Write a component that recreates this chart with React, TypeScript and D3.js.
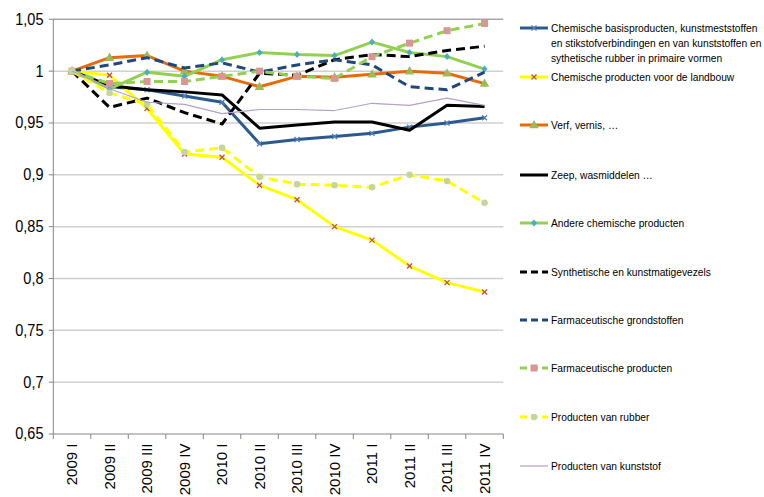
import React from "react";
import * as d3 from "d3";

const categories = ["2009 I","2009 II","2009 III","2009 IV","2010 I","2010 II","2010 III","2010 IV","2011 I","2011 II","2011 III","2011 IV"];
const yTicks = [0.65,0.7,0.75,0.8,0.85,0.9,0.95,1,1.05];

const chemBasis = [1.0,0.985,0.982,0.976,0.970,0.930,0.934,0.937,0.940,0.946,0.950,0.955];
const chemLandbouw = [1.0,0.996,0.964,0.920,0.917,0.890,0.876,0.850,0.837,0.812,0.796,0.787];
const verf = [1.0,1.013,1.015,1.0,0.995,0.985,0.995,0.994,0.997,1.0,0.998,0.988];
const zeep = [1.0,0.986,0.982,0.980,0.977,0.945,0.948,0.951,0.951,0.943,0.967,0.966];
const andereChem = [1.0,0.983,0.999,0.995,1.011,1.018,1.016,1.015,1.028,1.018,1.014,1.002];
const synthVezels = [1.0,0.965,0.974,0.960,0.949,0.998,0.996,1.011,1.016,1.014,1.020,1.024];
const farmaGrond = [1.0,1.006,1.013,1.003,1.008,0.999,1.006,1.011,1.006,0.985,0.982,0.999];
const farmaProd = [1.0,0.988,0.990,0.990,0.995,1.0,0.995,0.993,1.014,1.027,1.039,1.046];
const rubber = [1.0,0.979,0.968,0.922,0.926,0.898,0.891,0.890,0.888,0.900,0.894,0.873];
const kunststof = [1.0,0.983,0.970,0.968,0.959,0.963,0.963,0.962,0.969,0.967,0.974,0.967];

type Marker = "none" | "x" | "triangle" | "diamond" | "square" | "circle";
interface Series { name: string[]; values: number[]; color: string; width: number; dash?: string; marker: Marker; markerColor?: string; }

const series: Series[] = [
  { name: ["Chemische basisproducten, kunstmeststoffen","en stikstofverbindingen en van kunststoffen en","sythetische rubber in primaire vormen"], values: chemBasis, color: "#2C5A8F", width: 3, marker: "x", markerColor: "#4F81BD" },
  { name: ["Chemische producten voor de landbouw"], values: chemLandbouw, color: "#FFFF00", width: 3, marker: "x", markerColor: "#C0504D" },
  { name: ["Verf, vernis, …"], values: verf, color: "#E46C0A", width: 3, marker: "triangle", markerColor: "#9BBB59" },
  { name: ["Zeep, wasmiddelen …"], values: zeep, color: "#000000", width: 3, marker: "none" },
  { name: ["Andere chemische producten"], values: andereChem, color: "#92D050", width: 3, marker: "diamond", markerColor: "#4BACC6" },
  { name: ["Synthetische en kunstmatigevezels"], values: synthVezels, color: "#000000", width: 3, dash: "9,5", marker: "none" },
  { name: ["Farmaceutische grondstoffen"], values: farmaGrond, color: "#1F497D", width: 3, dash: "9,5", marker: "none" },
  { name: ["Farmaceutische producten"], values: farmaProd, color: "#92D050", width: 3, dash: "9,5", marker: "square", markerColor: "#D99694" },
  { name: ["Producten van rubber"], values: rubber, color: "#FFFF00", width: 3, dash: "9,5", marker: "circle", markerColor: "#C3D69B" },
  { name: ["Producten van kunststof"], values: kunststof, color: "#B3A2C7", width: 1.2, marker: "none" },
];

const legendY = [28, 77, 125, 175, 223, 272, 320, 368, 417, 466];

const W = 764, H = 497;
const left = 53.3, right = 503.3, top = 19.3, bottom = 434;
const FONT = "'Liberation Sans', Arial, sans-serif";
const K = 1.15; // vertical stretch of the legend text

function MarkerShape({ type, x, y, color }: { type: Marker; x: number; y: number; color?: string }) {
  const c = color || "#000";
  switch (type) {
    case "x":
      return <g stroke={c} strokeWidth={1.3}><line x1={x-2.5} y1={y-2.5} x2={x+2.5} y2={y+2.5}/><line x1={x-2.5} y1={y+2.5} x2={x+2.5} y2={y-2.5}/></g>;
    case "triangle":
      return <path d={d3.symbol(d3.symbolTriangle, 40)()!} transform={`translate(${x},${y+0.5})`} fill={c} />;
    case "diamond":
      return <path d={`M${x},${y-3.5}L${x+3},${y}L${x},${y+3.5}L${x-3},${y}Z`} fill={c} />;
    case "square":
      return <rect x={x-3.5} y={y-3.5} width={7} height={7} fill={c} />;
    case "circle":
      return <circle cx={x} cy={y} r={3.3} fill={c} />;
    default:
      return null;
  }
}

export default function App() {
  const x = d3.scaleBand<string>().domain(categories).range([left, right]);
  const y = d3.scaleLinear().domain([0.65, 1.05]).range([bottom, top]);
  const cx = (c: string) => (x(c) || 0) + x.bandwidth() / 2;
  const line = d3.line<number>().x((_, i) => cx(categories[i])).y(d => y(d));
  const boundaries = [...categories.map(c => x(c) || 0), right];

  return (
    <svg width={W} height={H} style={{ position: "absolute", left: 0, top: 0, background: "#fff" }} fontFamily={FONT}>
      {yTicks.filter(t => t > 0.65).map(t => (
        <line key={t} x1={left} x2={right} y1={y(t)} y2={y(t)} stroke={t === 1.05 ? "#A6A6A6" : "#D0D0D0"} strokeWidth={1.5} />
      ))}
      {yTicks.map(t => (
        <g key={"yt" + t}>
          <line x1={left - 4.5} x2={left} y1={y(t)} y2={y(t)} stroke="#868686" />
          <text transform={`translate(43.5,${y(t)}) scale(1,1.08)`} dy="0.35em" textAnchor="end" fontSize={14.5} fill="#000">{String(t).replace(".", ",")}</text>
        </g>
      ))}
      <line x1={left} x2={left} y1={top} y2={bottom} stroke="#868686" />
      <line x1={left} x2={right} y1={bottom} y2={bottom} stroke="#868686" />
      {boundaries.map((b, i) => (
        <line key={"xb" + i} x1={b} x2={b} y1={bottom} y2={bottom + 5} stroke="#868686" />
      ))}
      {categories.map(c => (
        <text key={c} transform={`translate(${cx(c)},${bottom + 9.5}) rotate(-90)`} dy="0.36em" textAnchor="end" fontSize={15} fill="#000">{c}</text>
      ))}
      {series.map((s, si) => (
        <g key={"s" + si}>
          <path d={line(s.values)!} fill="none" stroke={s.color} strokeWidth={s.width} strokeDasharray={s.dash} strokeLinejoin="round" />
          {s.marker !== "none" && s.values.map((v, i) => (
            <MarkerShape key={i} type={s.marker} x={cx(categories[i])} y={y(v)} color={s.markerColor} />
          ))}
        </g>
      ))}
      {series.map((s, si) => {
        const ly = legendY[si];
        return (
          <g key={"l" + si}>
            <line x1={520} x2={548} y1={ly} y2={ly} stroke={s.color} strokeWidth={s.width} strokeDasharray={s.dash ? "7,4" : undefined} />
            {s.marker !== "none" && <MarkerShape type={s.marker} x={534} y={ly} color={s.markerColor} />}
            {s.name.map((n, k) => (
              <text key={k} transform={`translate(551,${ly + k * 14.7}) scale(1,${K})`} dy="0.35em" fontSize={10.25} fill="#000">{n}</text>
            ))}
          </g>
        );
      })}
    </svg>
  );
}
